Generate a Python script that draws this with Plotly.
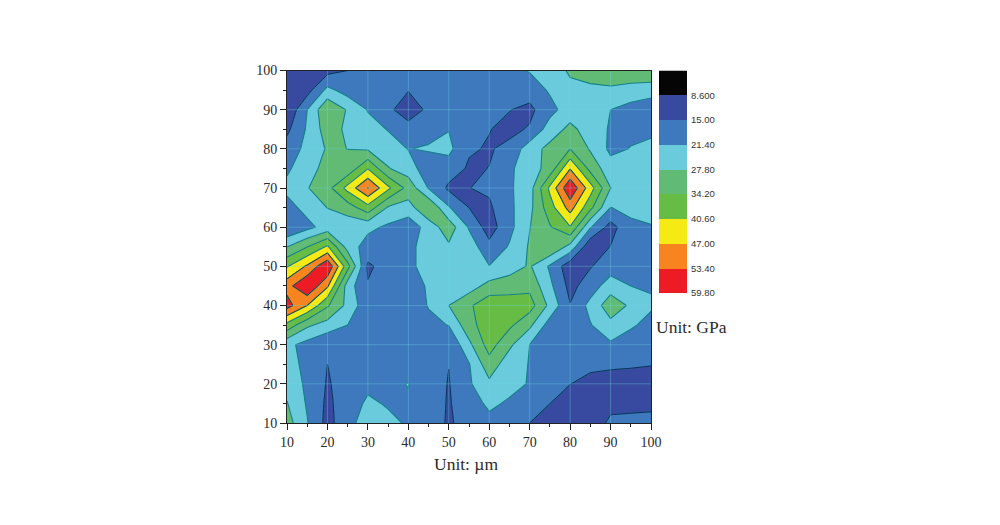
import plotly.graph_objects as go

x_vals = [10, 15, 20, 25, 30, 35, 40, 45, 50, 55, 60, 65, 70, 75, 80, 85, 90, 95, 100]
y_vals = [10, 15, 20, 25, 30, 35, 40, 45, 50, 55, 60, 65, 70, 75, 80, 85, 90, 95, 100]
grid_vals = [20, 30, 40, 50, 60, 70, 80, 90]

z_y10 = [30.5, 21.75, 13, 19, 25, 22.85, 20.7, 17.55, 14.4, 16.85, 19.3, 17.15, 15, 12.25, 9.5, 12.65, 15.8, 15.9, 16]
z_y15 = [28.1, 20.7, 13.75, 18.1, 22.5, 20.8, 21.1, 17.7, 14.55, 18, 22.85, 20.4, 17.95, 15.05, 12.3, 13, 13.9, 14.1, 14.25]
z_y20 = [25.7, 20.1, 14.5, 17.25, 20, 20.75, 21.5, 18.1, 14.7, 20.55, 26.4, 23.65, 20.9, 18, 15.1, 13.55, 12, 12.25, 12.5]
z_y25 = [24.35, 19.4, 15, 17, 19, 19.4, 19.75, 17.2, 15.1, 21, 31.7, 23.9, 21.15, 18.6, 16.05, 16.1, 16.2, 15.7, 15.25]
z_y30 = [23, 19.25, 15.5, 16.75, 18, 18, 18, 16.75, 15.5, 26.25, 37, 29.2, 21.4, 19.2, 17, 18.7, 20.4, 19.2, 18]
z_y35 = [38.5, 29, 25.25, 21.4, 17.5, 17.25, 17, 19.3, 21.65, 32, 37.75, 35.5, 29.2, 18.5, 16.15, 21, 25.95, 22, 20]
z_y40 = [56, 47, 35, 26, 17, 16.5, 16, 21.9, 27.8, 33.15, 38.5, 37.75, 37, 26.15, 15.3, 23.4, 31.5, 26.75, 22]
z_y45 = [51, 59.5, 48, 24.5, 15.5, 17, 18.4, 22.1, 25.9, 24.7, 30.05, 31.3, 32.5, 22.8, 13.15, 18, 24.85, 21.4, 21]
z_y50 = [40, 48, 59, 36.5, 14, 17.4, 20.8, 22.4, 24, 22.8, 21.6, 24.8, 28.5, 20.5, 11, 14.6, 18.2, 19.1, 20]
z_y55 = [27.6, 34, 41.5, 25, 18.5, 18.8, 19.15, 25.1, 26.75, 25, 16.8, 22, 28.5, 34.1, 25.6, 10, 15.2, 18.5, 20.6]
z_y60 = [15.2, 19.6, 24, 23.5, 23, 20.25, 17.5, 24, 31.5, 20.75, 12, 19.5, 27.6, 33.6, 40.2, 22, 12.5, 20, 21.2]
z_y65 = [19.1, 23.5, 27.95, 31, 38.3, 27, 25, 34, 22, 15, 14, 20, 26, 37.8, 49.6, 36, 21.3, 23, 22.6]
z_y70 = [23, 27.45, 31.9, 42.75, 53.6, 42, 32, 21, 13.8, 14.9, 16, 20.5, 25, 42, 59, 43.45, 27.9, 25.95, 24]
z_y75 = [20.4, 25, 30.2, 29.5, 40.3, 28.2, 24.5, 17.5, 18.4, 14.2, 15.1, 20.25, 25, 30, 46.6, 32, 23.95, 23.8, 23.6]
z_y80 = [17.8, 23.15, 28.5, 27.75, 27, 24.1, 21.2, 22.1, 23, 15.7, 14.5, 16.5, 25, 29.6, 34.2, 27.1, 20, 21.6, 23.2]
z_y85 = [13.6, 22.2, 30.95, 26.5, 24, 21.1, 16.85, 19, 21.2, 18.7, 15.2, 13.5, 15.6, 24.45, 29.4, 25, 20.7, 20.25, 19.9]
z_y90 = [9.4, 21.4, 33.4, 27.2, 21, 16, 12.5, 15.95, 19.4, 18.35, 17.3, 15.2, 13.5, 19.3, 24.6, 23, 21.4, 19, 16.6]
z_y95 = [9.3, 12.5, 23.2, 18.5, 19, 16.9, 15.2, 16.9, 18.95, 18.6, 18.15, 18, 17.9, 22.2, 26.55, 26.6, 26.7, 25.4, 24.6]
z_y100 = [9.2, 11.1, 13, 15, 17, 17, 17, 17.75, 18.5, 18.75, 19, 20.4, 21.8, 25.15, 28.5, 30.25, 32, 32.3, 32.6]
z_grid = [z_y10, z_y15, z_y20, z_y25, z_y30, z_y35, z_y40, z_y45, z_y50, z_y55,
          z_y60, z_y65, z_y70, z_y75, z_y80, z_y85, z_y90, z_y95, z_y100]

level_low = 2.2
level_high = 59.8
level_step = 6.4
level_ticks = [8.6, 15, 21.4, 27.8, 34.2, 40.6, 47, 53.4, 59.8]
level_text = ["8.600", "15.00", "21.40", "27.80", "34.20", "40.60", "47.00", "53.40", "59.80"]
band_mid = [5.4, 11.8, 18.2, 24.6, 31, 37.4, 43.8, 50.2, 56.6]
band_colors = ["#050505", "#384a9f", "#3e78bd", "#69cbdb", "#62bb75",
               "#67bc46", "#f5ea14", "#f7841f", "#ed1c24"]

def step_scale(colors):
    n = len(colors)
    out = []
    for i, c in enumerate(colors):
        out.append([i / n, c])
        out.append([(i + 1) / n, c])
    return out

bar_scale = step_scale(band_colors)
# contour fills sample the scale exactly at these stops
fill_list = [band_colors[0]] + band_colors + [band_colors[-1]]
fill_scale = [[k / (len(fill_list) - 1), c] for k, c in enumerate(fill_list)]

PAGE_OFFSET = 8
W, H = 1000, 525
def fx(px):
    return (px - PAGE_OFFSET) / W
def fy(px):
    return 1 - (px - PAGE_OFFSET) / H

fig = go.Figure()
fig.add_trace(go.Contour(
    x=x_vals, y=y_vals, z=z_grid, colorscale=fill_scale,
    showscale=False, autocontour=False,
    contours=dict(start=level_low, end=level_high, size=level_step, coloring="fill", showlines=True),
    line=dict(color="#14808a", width=1.1, smoothing=0), hoverinfo="skip",
))
# darker outlines for the low band and the hot bands
fig.add_trace(go.Contour(
    x=x_vals, y=y_vals, z=z_grid, showscale=False, autocontour=False,
    contours=dict(start=15, end=15, size=6.4, coloring="none"),
    line=dict(color="#142a66", width=1, smoothing=0), hoverinfo="skip",
))
fig.add_trace(go.Contour(
    x=x_vals, y=y_vals, z=z_grid, showscale=False, autocontour=False,
    contours=dict(start=47, end=59.8, size=6.4, coloring="none"),
    line=dict(color="#2a2a1c", width=0.7, smoothing=0), hoverinfo="skip",
))
# faint grid above the fill
for g in grid_vals:
    fig.add_trace(go.Scatter(x=[g, g], y=[y_vals[0], y_vals[-1]], mode="lines",
                             line=dict(color="rgba(110,215,225,0.35)", width=1),
                             hoverinfo="skip", showlegend=False))
    fig.add_trace(go.Scatter(x=[x_vals[0], x_vals[-1]], y=[g, g], mode="lines",
                             line=dict(color="rgba(110,215,225,0.35)", width=1),
                             hoverinfo="skip", showlegend=False))

fig.add_trace(go.Heatmap(
    x=[0], y=band_mid, z=[[m] for m in band_mid], zmin=level_low, zmax=level_high,
    colorscale=bar_scale, showscale=False, xaxis="x2", yaxis="y2", hoverinfo="skip",
))

axis_font = dict(family="Liberation Serif", size=14, color="#2b2b2b")
label_font = dict(family="Liberation Serif", size=17.5, color="#2b2b2b")
common = dict(range=[10, 100], tick0=10, dtick=10, ticks="outside", ticklen=6, tickwidth=1,
              tickcolor="#222", showline=True, linecolor="#222", linewidth=1, mirror=True,
              showgrid=False, zeroline=False, tickfont=axis_font, automargin=False,
              minor=dict(dtick=5, tick0=10, ticks="outside", ticklen=3, tickcolor="#222", showgrid=False))

fig.update_layout(
    width=W, height=H, margin=dict(l=0, r=0, t=0, b=0),
    paper_bgcolor="white", plot_bgcolor="white", showlegend=False,
    xaxis=dict(domain=[fx(287), fx(651)], anchor="y", **common),
    yaxis=dict(domain=[fy(423), fy(70.5)], anchor="x", **common),
    xaxis2=dict(domain=[fx(659), fx(687)], anchor="y2", visible=False, automargin=False),
    yaxis2=dict(domain=[fy(293), fy(70.5)], anchor="x2", side="right",
                range=[level_high, level_low], tickvals=level_ticks, ticktext=level_text,
                ticks="", showline=False, showgrid=False, zeroline=False, ticklabelstandoff=3,
                automargin=False,
                tickfont=dict(family="Liberation Sans", size=9.5, color="#333")),
    annotations=[
        dict(text="Unit: GPa", xref="paper", yref="paper", x=fx(691), y=fy(327),
             showarrow=False, xanchor="center", yanchor="middle", font=label_font),
        dict(text="Unit: µm", xref="paper", yref="paper", x=fx(466), y=fy(464),
             showarrow=False, xanchor="center", yanchor="middle", font=label_font),
    ],
)
fig.write_html("out.html")
